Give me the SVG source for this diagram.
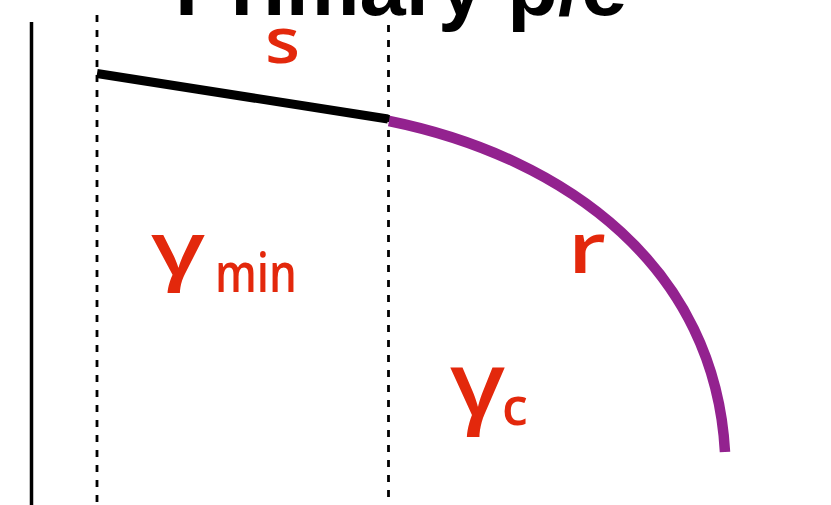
<svg xmlns="http://www.w3.org/2000/svg" width="831" height="505" viewBox="0 0 831 505">
<style>
.title{font-family:"Liberation Sans",Arial,sans-serif;font-weight:bold;fill:#000}
.lbl{font-family:"Open Sans","Noto Sans",sans-serif;font-weight:600;fill:#E3280C}
.dash{stroke:#000;stroke-width:2.8;stroke-dasharray:7 8;fill:none}
</style>
<rect width="831" height="505" fill="#fff"/>
<text class="title" x="175" y="15" font-size="83">Primary p/e</text>
<g id="axis">
<line x1="31.5" y1="22" x2="31.5" y2="505" stroke="#000" stroke-width="3.5"/>
</g>
<g id="guides">
<line class="dash" x1="97" y1="15" x2="97" y2="505"/>
<line class="dash" x1="388.5" y1="25" x2="388.5" y2="505"/>
</g>
<g id="connectors">
<line id="s-seg" x1="97" y1="73.5" x2="388" y2="119" stroke="#000" stroke-width="9"/>
<path id="r-arc" d="M389,121 C570,158 715,270 725,452" fill="none" stroke="#93228F" stroke-width="10.5"/>
</g>
<g id="label-s"><text class="lbl" x="265" y="63" font-size="63" textLength="35" lengthAdjust="spacingAndGlyphs">s</text></g>
<g id="label-r"><text class="lbl" x="568" y="273" font-size="70" textLength="38" lengthAdjust="spacingAndGlyphs">r</text></g>
<g id="label-gmin">
<text class="lbl" x="151" y="275" font-size="74" textLength="54" lengthAdjust="spacingAndGlyphs">γ</text>
<text class="lbl" x="215" y="292" font-size="54" textLength="82" lengthAdjust="spacingAndGlyphs">min</text>
</g>
<g id="label-gc">
<text class="lbl" x="450" y="416" font-size="89" textLength="55" lengthAdjust="spacingAndGlyphs">γ</text>
<text class="lbl" x="502" y="425" font-size="52">c</text>
</g>
</svg>
